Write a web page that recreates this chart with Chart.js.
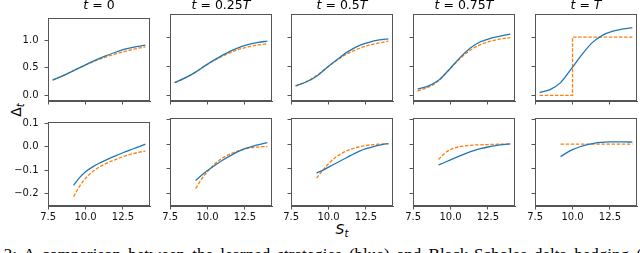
<!DOCTYPE html>
<html>
<head>
<meta charset="utf-8">
<script src="https://cdn.jsdelivr.net/npm/chart.js@4.4.0/dist/chart.umd.min.js"></script>
<style>
  body { margin: 0; background: #fff; }
  #fig { position: relative; width: 640px; height: 253px; overflow: hidden; background: #fff; font-family: "DejaVu Sans", sans-serif; color: #000; }
  #fig canvas { position: absolute; }
  .ttl { position: absolute; width: 102px; text-align: center; font-size: 12.5px; line-height: 12px; top: -1px; white-space: nowrap; }
  #ylab { position: absolute; left: 17px; top: 110px; font-size: 14px; transform: translate(-50%, -50%) rotate(-90deg); white-space: nowrap; }
  #xlab { position: absolute; left: 342px; top: 230px; font-size: 14px; transform: translate(-50%, -50%); white-space: nowrap; }
  #caption { position: absolute; left: -48px; top: 245px; font-family: "Liberation Serif", serif; font-size: 17px; line-height: 20px; white-space: nowrap; word-spacing: 3px; }
</style>
</head>
<body>
<div id="fig">
  <div id="ylab">&Delta;<sub style="font-size:10px"><i>t</i></sub></div>
  <div id="xlab"><i>S</i><sub style="font-size:10px"><i>t</i></sub></div>
  <div id="caption">Figure 2: A comparison between the learned strategies (blue) and Black-Scholes delta hedging (orange).</div>
</div>
<script>
// time labels of the columns
var timeLabels = ['0', '0.25T', '0.5T', '0.75T', 'T'];

// stock prices where the curves were read
var sTop = [7.8, 8.5, 9.2, 9.9, 10.6, 11.3, 12.0, 12.7, 13.4, 14.0];
var sBot = [9.2, 9.6, 10.0, 10.5, 11.0, 11.5, 12.0, 12.5, 13.0, 13.5, 14.0];

// top row: delta of the learned strategy (blue) and Black-Scholes (orange)
var netDelta = [
  [0.28, 0.36, 0.45, 0.54, 0.63, 0.71, 0.78, 0.84, 0.88, 0.91],
  [0.22, 0.30, 0.40, 0.52, 0.63, 0.73, 0.81, 0.87, 0.91, 0.93],
  [0.165, 0.23, 0.33, 0.48, 0.62, 0.75, 0.85, 0.91, 0.95, 0.97],
  [0.11, 0.16, 0.26, 0.44, 0.64, 0.81, 0.92, 0.98, 1.02, 1.05],
  [0.05, 0.10, 0.22, 0.45, 0.69, 0.90, 1.03, 1.10, 1.14, 1.16]
];
var bsDelta = [
  [0.28, 0.36, 0.45, 0.54, 0.62, 0.69, 0.75, 0.80, 0.845, 0.875],
  [0.22, 0.30, 0.40, 0.52, 0.62, 0.71, 0.78, 0.83, 0.865, 0.885],
  [0.165, 0.235, 0.34, 0.48, 0.61, 0.72, 0.80, 0.86, 0.90, 0.93],
  [0.075, 0.14, 0.25, 0.44, 0.62, 0.77, 0.87, 0.93, 0.97, 0.99]
];
// at t = T the Black-Scholes delta is a step
var stepS = [7.8, 10.0, 10.0, 14.0];
var stepDelta = [0, 0, 1, 1];

// bottom row
var netLow = [
  [-0.164, -0.131, -0.106, -0.084, -0.067, -0.052, -0.038, -0.025, -0.013, -0.001, 0.012],
  [-0.148, -0.127, -0.108, -0.086, -0.066, -0.048, -0.032, -0.019, -0.009, -0.001, 0.006],
  [-0.118, -0.107, -0.094, -0.078, -0.062, -0.046, -0.031, -0.019, -0.010, -0.003, 0.002],
  [-0.085, -0.075, -0.064, -0.051, -0.039, -0.028, -0.019, -0.012, -0.006, -0.002, 0.001],
  [-0.051, -0.036, -0.023, -0.011, -0.002, 0.004, 0.007, 0.009, 0.009, 0.009, 0.008]
];
var bsLow = [
  [-0.212, -0.168, -0.134, -0.104, -0.083, -0.067, -0.054, -0.042, -0.032, -0.024, -0.018],
  [-0.181, -0.143, -0.112, -0.080, -0.057, -0.041, -0.029, -0.020, -0.014, -0.011, -0.010],
  [-0.139, -0.108, -0.080, -0.053, -0.034, -0.021, -0.012, -0.006, -0.002, 0.000, 0.002],
  [-0.063, -0.038, -0.022, -0.012, -0.007, -0.004, -0.003, -0.002, -0.001, 0.000, 0.000],
  [0, 0, 0, 0, 0, 0, 0, 0, 0, 0, 0]
];

var xTicks = [7.5, 10.0, 12.5];
var yTicksTop = [0.0, 0.5, 1.0];
var yTicksBot = [-0.2, -0.1, 0.0, 0.1];

var colLeft = [48, 170, 291, 413, 535];
var rowTop = [14, 118];
var rowH = [87, 88];
var plotW = 102;
var padL = 40, padT = 8, padR = 6, padB = 20;

var BLUE = '#1f77b4', ORANGE = '#ff7f0e', AXIS = '#555';

function pts(xs, ys) {
  return xs.map(function (x, i) { return {x: x, y: ys[i]}; });
}
function fmt(v) {
  return v.toFixed(1).replace('-', '\u2212');
}

var frame = {
  id: 'frame',
  afterDraw: function (chart) {
    var a = chart.chartArea, ctx = chart.ctx;
    ctx.save();
    ctx.strokeStyle = AXIS;
    ctx.lineWidth = 1;
    ctx.strokeRect(Math.round(a.left) + 0.5, Math.round(a.top) + 0.5,
                   Math.round(a.right - a.left) - 1, Math.round(a.bottom - a.top) - 1);
    ctx.restore();
  }
};

var fig = document.getElementById('fig');

for (var row = 0; row < 2; row++) {
  for (var col = 0; col < 5; col++) {
    var cv = document.createElement('canvas');
    cv.width = padL + plotW + padR;
    cv.height = padT + rowH[row] + padB;
    cv.style.left = (colLeft[col] - padL) + 'px';
    cv.style.top = (rowTop[row] - padT) + 'px';
    fig.appendChild(cv);

    var blue, orange;
    if (row === 0) {
      blue = pts(sTop, netDelta[col]);
      orange = col === 4 ? pts(stepS, stepDelta) : pts(sTop, bsDelta[col]);
    } else {
      blue = pts(sBot, netLow[col]);
      orange = pts(sBot, bsLow[col]);
    }
    var yt = row === 0 ? yTicksTop : yTicksBot;
    var step = row === 0 && col === 4;

    new Chart(cv, {
      type: 'line',
      data: {
        datasets: [
          { data: blue, borderColor: BLUE, borderWidth: 1.3, pointRadius: 0, cubicInterpolationMode: 'monotone', fill: false },
          { data: orange, borderColor: ORANGE, borderWidth: 1.3, borderDash: [3.5, 1.6], pointRadius: 0,
            cubicInterpolationMode: step ? 'default' : 'monotone', tension: 0, fill: false }
        ]
      },
      options: {
        responsive: false,
        animation: false,
        devicePixelRatio: 1,
        layout: { padding: { left: 0, top: padT, right: padR, bottom: 0 } },
        plugins: { legend: { display: false }, tooltip: { enabled: false }, title: { display: false } },
        scales: {
          x: {
            type: 'linear', min: 7.49, max: 14.31,
            afterBuildTicks: function (s) { s.ticks = xTicks.map(function (v) { return {value: v}; }); },
            afterFit: function (s) { s.height = padB; },
            grid: { drawOnChartArea: false, drawTicks: true, tickLength: 3.5, color: AXIS },
            border: { display: true, color: AXIS, width: 1 },
            ticks: { display: row === 1, padding: 2, color: '#111', font: { family: 'DejaVu Sans', size: 10 },
                     maxRotation: 0, autoSkip: false, callback: function (v) { return fmt(v); } }
          },
          y: {
            type: 'linear',
            min: row === 0 ? -0.095 : -0.252,
            max: row === 0 ? 1.395 : 0.106,
            afterBuildTicks: (function (t) { return function (s) { s.ticks = t.map(function (v) { return {value: v}; }); }; })(yt),
            afterFit: function (s) { s.width = padL; },
            grid: { drawOnChartArea: false, drawTicks: true, tickLength: 3.5, color: AXIS },
            border: { display: true, color: AXIS, width: 1 },
            ticks: { display: col === 0, padding: 6, color: '#111', font: { family: 'DejaVu Sans', size: 10 },
                     autoSkip: false, callback: function (v) { return fmt(v); } }
          }
        }
      },
      plugins: [frame]
    });

    if (row === 0) {
      var t = document.createElement('div');
      t.className = 'ttl';
      t.style.left = colLeft[col] + 'px';
      var lab = timeLabels[col].replace('T', '<i>T</i>');
      t.innerHTML = '<i>t</i> = ' + lab;
      fig.appendChild(t);
    }
  }
}
</script>
</body>
</html>
